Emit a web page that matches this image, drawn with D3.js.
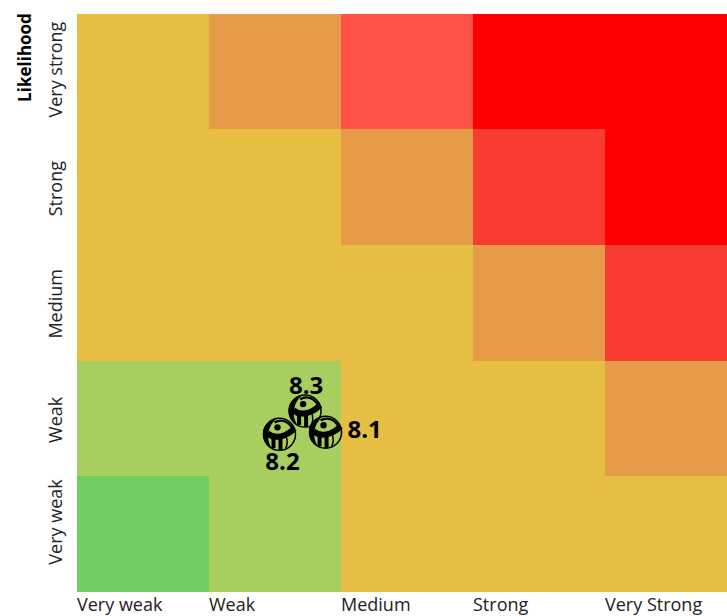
<!DOCTYPE html>
<html>
<head>
<meta charset="utf-8">
<script src="https://cdn.jsdelivr.net/npm/d3@7"></script>
<style>
html, body { margin: 0; padding: 0; background: #fff; overflow: hidden; }
text { font-family: "Open Sans", sans-serif; }
</style>
</head>
<body>
<div id="chart"></div>
<script>
var impact_labels = ['Very weak', 'Weak', 'Medium', 'Strong', 'Very Strong'];
var likelihood_labels = ['Very weak', 'Weak', 'Medium', 'Strong', 'Very strong'];

// Risk level per cell, first row is the bottom one
var risk_levels = [
    [0, 1, 2, 2, 2],
    [1, 1, 2, 2, 3],
    [2, 2, 2, 3, 5],
    [2, 2, 3, 5, 6],
    [2, 3, 4, 6, 6]
];
var level_colors = ['#71cf61', '#a9ce60', '#e5be43', '#e69b47', '#ff5145', '#f93c31', '#ff0000'];

var point_ids = ['8.1', '8.2', '8.3'];
var point_impact = [1.88, 1.531, 1.725];
var point_likelihood = [1.38, 1.362, 1.563];

var width = 727;
var height = 616;
var left = 77.4;
var top_pad = 13.8;
var plot_width = 660;
var plot_height = 578;

var svg = d3.select('#chart')
    .append('svg')
    .attr('width', width)
    .attr('height', height)
    .style('display', 'block');

var scale_x = d3.scaleLinear().domain([0, 5]).range([left, left + plot_width]);
var scale_y = d3.scaleLinear().domain([0, 5]).range([top_pad + plot_height, top_pad]);
var scale_color = d3.scaleOrdinal().domain(d3.range(level_colors.length)).range(level_colors);

// Cells
risk_levels.forEach(function(row, r) {
    svg.append('g')
        .selectAll('rect')
        .data(row)
        .enter()
        .append('rect')
        .attr('x', function(d, c) { return scale_x(c); })
        .attr('y', scale_y(r + 1))
        .attr('width', function(d, c) { return scale_x(c + 1) - scale_x(c); })
        .attr('height', scale_y(r) - scale_y(r + 1))
        .attr('fill', function(d) { return scale_color(d); })
        .attr('shape-rendering', 'crispEdges');
});

// Axis labels
svg.append('g')
    .selectAll('text')
    .data(impact_labels)
    .enter()
    .append('text')
    .attr('x', function(d, i) { return scale_x(i) - 0.4; })
    .attr('y', top_pad + plot_height + 19)
    .attr('font-size', 18)
    .attr('fill', '#222')
    .text(function(d) { return d; });

// the labels do not sit exactly on the row centres in the original
var likelihood_shift = [-12, 1.5, 1, 1.5, -2];
svg.append('g')
    .selectAll('text')
    .data(likelihood_labels)
    .enter()
    .append('text')
    .attr('transform', function(d, i) {
        return 'translate(62,' + (scale_y(i + 0.5) + likelihood_shift[i]) + ') rotate(-90)';
    })
    .attr('text-anchor', 'middle')
    .attr('font-size', 18)
    .attr('fill', '#222')
    .text(function(d) { return d; });

svg.append('text')
    .attr('transform', 'translate(31,57.5) rotate(-90)')
    .attr('text-anchor', 'middle')
    .attr('font-size', 17)
    .attr('font-weight', 700)
    .attr('fill', '#000')
    .text('Likelihood');

// Markers
var markers = svg.append('g')
    .selectAll('g')
    .data(point_ids)
    .enter()
    .append('g')
    .attr('transform', function(d, i) {
        return 'translate(' + scale_x(point_impact[i]) + ',' + scale_y(point_likelihood[i]) + ')';
    });

markers.append('circle')
    .attr('r', 16)
    .attr('fill', 'none')
    .attr('stroke', '#000')
    .attr('stroke-width', 1.5);

// dark left side of the ball
markers.append('path')
    .attr('d', 'M-3,-16 A16,16 0 0 0 -7,14.5 C-11,10 -12,3 -11,-2 C-10,-8 -7,-12 -3,-16 Z')
    .attr('fill', '#000');

// top arc
markers.append('path')
    .attr('d', 'M-5,-12 C1,-15 8,-14 13,-6')
    .attr('fill', 'none')
    .attr('stroke', '#000')
    .attr('stroke-width', 2.4);

// band
markers.append('path')
    .attr('d', 'M-12,-1 C-5,5 6,3 15,-6')
    .attr('fill', 'none')
    .attr('stroke', '#000')
    .attr('stroke-width', 6);

// stripes below the band
markers.append('path')
    .attr('d', 'M-6,3 L-6,14 M1,3 L1,16')
    .attr('fill', 'none')
    .attr('stroke', '#000')
    .attr('stroke-width', 4);

markers.append('path')
    .attr('d', 'M7,3 C8,7 8,11 6,14')
    .attr('fill', 'none')
    .attr('stroke', '#000')
    .attr('stroke-width', 1.5);

markers.append('circle')
    .attr('cx', -2)
    .attr('cy', -7)
    .attr('r', 3.2)
    .attr('fill', '#000');

// Marker labels
var label_dx = [39, 3, 1];
var label_dy = [6, 36, -17];
markers.append('text')
    .attr('x', function(d, i) { return label_dx[i]; })
    .attr('y', function(d, i) { return label_dy[i]; })
    .attr('text-anchor', 'middle')
    .attr('font-size', 24)
    .attr('font-weight', 700)
    .attr('fill', '#000')
    .text(function(d) { return d; });
</script>
</body>
</html>
